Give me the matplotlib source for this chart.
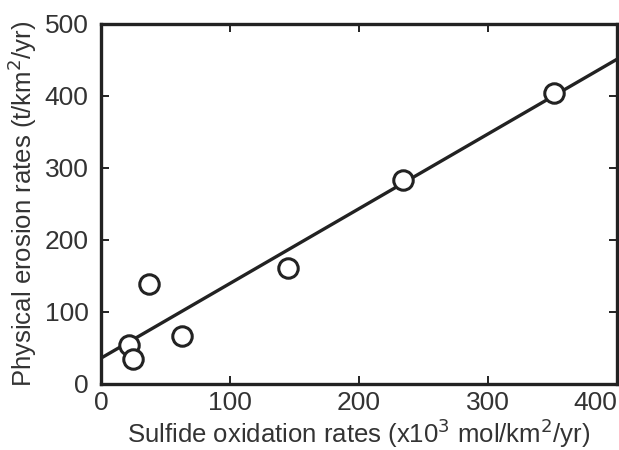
import numpy as np
import matplotlib
matplotlib.use('Agg')
from matplotlib import pyplot as plt

# data
sulfide_ox = [22, 25, 37, 63, 145, 234, 351]
erosion = [54, 34, 138, 67, 161, 283, 404]
fit_x = [0, 400]
fit_y = [35.6, 451]

plt.rcParams['font.family'] = ['Liberation Sans', 'DejaVu Sans']
ink = '#222222'

fig = plt.figure(figsize=(6.19, 4.5), dpi=100)
ax = fig.add_axes([0.163, 0.147, 0.834, 0.8])

ax.plot(fit_x, fit_y, color=ink, lw=2.4, zorder=2)
ax.plot(sulfide_ox, erosion, 'o', ms=14, mfc='white', mec=ink, mew=2.2, zorder=3,
        clip_on=False)

ax.set_xlim(0, 400)
ax.set_ylim(0, 500)
ax.set_xticks([0, 100, 200, 300, 400])
ax.set_yticks([0, 100, 200, 300, 400, 500])
ax.tick_params(direction='in', length=6, width=1.4, colors=ink, labelsize=19,
               top=True, right=True)
ax.tick_params(axis='x', pad=5)
ax.tick_params(axis='y', pad=9)
for lab in ax.get_xticklabels() + ax.get_yticklabels():
    lab.set_color('#333333')
ax.get_xticklabels()[-1].set_horizontalalignment('right')
for s in ax.spines.values():
    s.set_linewidth(2.4)
    s.set_color(ink)

ax.set_xlabel('Sulfide oxidation rates (x10$^3$ mol/km$^2$/yr)', fontsize=18.5,
              color='#333333', labelpad=1.5)
ax.set_ylabel('Physical erosion rates (t/km$^2$/yr)', fontsize=18.5,
              color='#333333', labelpad=4)

plt.savefig('out.png', dpi=100)
